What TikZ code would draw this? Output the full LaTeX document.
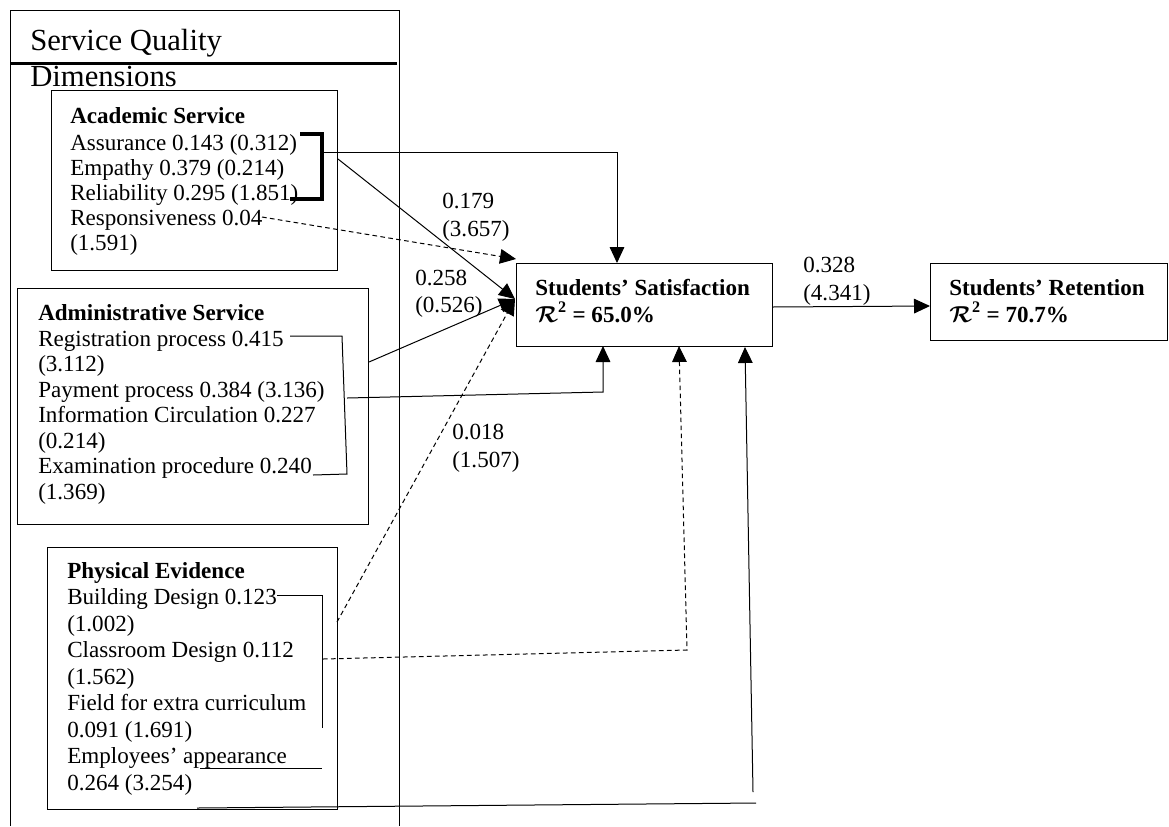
\documentclass[tikz,border=0pt]{standalone}
\usepackage{amsmath}
\usepackage{fontspec}
\setmainfont{Liberation Serif}
\usetikzlibrary{arrows.meta,fit}
\begin{document}
\begin{tikzpicture}[x=0.75pt,y=-0.75pt,
  ln/.style={line width=0.75pt},
  box/.style={draw, line width=0.75pt, inner sep=0pt},
  txt/.style={anchor=base west, inner sep=0pt, font=\fontsize{17.3}{20}\selectfont},
  bld/.style={txt, font=\fontsize{17.3}{20}\selectfont\bfseries},
  ttl/.style={anchor=base west, inner sep=0pt, font=\fontsize{23}{26}\selectfont},
  arr/.style={ln, -{Triangle[length=12pt,width=11pt]}},
  dsh/.style={dash pattern=on 3.5pt off 2.5pt}]
\useasboundingbox (0,0) rectangle (1169,826);
% outer frame
\draw[ln] (10,826) -- (10,10) -- (399,10) -- (399,826);
\node[ttl] (t1) at (30,50) {Service Quality};
\node[ttl] (t2) at (30,86) {Dimensions};
\draw[line width=2.4pt] (11,63.5) -- (397,63.5);
% boxes
\node[box, fit={(51,90) (337,270)}] (acad) {};
\node[box, fit={(17,288) (368,524)}] (admin) {};
\node[box, fit={(47,547) (337,809)}] (phys) {};
\node[box, fit={(516,263) (772,346)}] (sat) {};
\node[box, fit={(930,263) (1167,340)}] (ret) {};
% academic text
\node[bld] (a0) at (70,123) {Academic Service};
\node[txt] (a1) at (70,150) {Assurance 0.143 (0.312)};
\node[txt] (a2) at (70,175) {Empathy 0.379 (0.214)};
\node[txt] (a3) at (70,200) {Reliability 0.295 (1.851)};
\node[txt] (a4) at (70,225) {Responsiveness 0.04};
\node[txt] (a5) at (70,250) {(1.591)};
% administrative text
\node[bld] (b0) at (38,320) {Administrative Service};
\node[txt] (b1) at (38,346) {Registration process 0.415};
\node[txt] (b2) at (38,371.5) {(3.112)};
\node[txt] (b3) at (38,397) {Payment process 0.384 (3.136)};
\node[txt] (b4) at (38,422.5) {Information Circulation 0.227};
\node[txt] (b5) at (38,448) {(0.214)};
\node[txt] (b6) at (38,473.5) {Examination procedure 0.240};
\node[txt] (b7) at (38,499) {(1.369)};
% physical text
\node[bld] (c0) at (67,578) {Physical Evidence};
\node[txt] (c1) at (67,604.5) {Building Design 0.123};
\node[txt] (c2) at (67,631) {(1.002)};
\node[txt] (c3) at (67,657.5) {Classroom Design 0.112};
\node[txt] (c4) at (67,684) {(1.562)};
\node[txt] (c5) at (67,710.5) {Field for extra curriculum};
\node[txt] (c6) at (67,737) {0.091 (1.691)};
\node[txt] (c7) at (67,763.5) {Employees’ appearance};
\node[txt] (c8) at (67,790) {0.264 (3.254)};
% outcome boxes text
\node[bld] (s1t) at (535,295) {Students’ Satisfaction};
\node[bld] (s2t) at (535,322) {$\boldsymbol{\mathcal{R}}^{\mathbf{2}}$ = 65.0\%};
\node[bld] (r1t) at (949,295) {Students’ Retention};
\node[bld] (r2t) at (949,322) {$\boldsymbol{\mathcal{R}}^{\mathbf{2}}$ = 70.7\%};
% path labels
\node[txt] (l1) at (442,208) {0.179};
\node[txt] (l2) at (442,236) {(3.657)};
\node[txt] (l3) at (415,285) {0.258};
\node[txt] (l4) at (415,312) {(0.526)};
\node[txt] (l5) at (452,439) {0.018};
\node[txt] (l6) at (452,467) {(1.507)};
\node[txt] (l7) at (803,272) {0.328};
\node[txt] (l8) at (803,300) {(4.341)};
% coordinates
\coordinate (abr) at (322,152);
\coordinate (s1) at (617,263);
\coordinate (adg) at (338,159);
\coordinate (s2) at (515,299);
\coordinate (ars) at (262,217);
\coordinate (s3) at (516,259);
\coordinate (adm) at (369,362);
\coordinate (pay) at (347,398);
\coordinate (pb) at (603,392);
\coordinate (s4) at (603,346);
\coordinate (pbd) at (337,622);
\coordinate (pcd) at (323,659);
\coordinate (pc2) at (687,650);
\coordinate (s5) at (679,346);
\coordinate (pea) at (197,808);
\coordinate (pe2) at (756,803);
\coordinate (pe3) at (753,792);
\coordinate (s6) at (745,347);
\coordinate (se) at (772,307);
\coordinate (rw) at (930,306);
% brackets
\draw[line width=3pt] (300,134) -- (322,134) -- (322,199) -- (290,199);
\draw[ln] (290,336) -- (342,336) -- (347,474) -- (313,475);
\draw[ln] (277,595) -- (322,595) -- (322,728);
\draw[ln] (200,768) -- (322,768);
% connectors
\draw[arr] (abr) -| (s1);
\draw[arr] (adg) -- (s2);
\draw[arr,dsh] (ars) -- (s3);
\draw[arr] (adm) -- (s2);
\draw[arr] (pay) -- (pb) -- (s4);
\draw[arr,dsh] (pbd) -- (s2);
\draw[arr,dsh] (pcd) -- (pc2) -- (s5);
\draw[ln] (pea) -- (pe2);
\draw[arr] (pe3) -- (s6);
\draw[arr] (se) -- (rw);
\end{tikzpicture}
\end{document}
